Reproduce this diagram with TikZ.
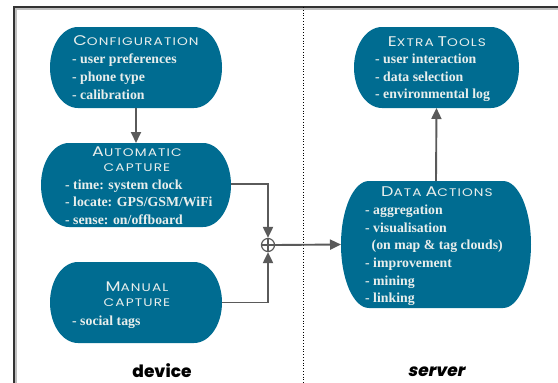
\documentclass[tikz,border=0pt]{standalone}
\usepackage{fontspec}
\usepackage{graphicx}
\setmainfont{Liberation Serif}
\newfontfamily\ttlfont[LetterSpace=8]{Poppins}
\newfontfamily\heavyfont{Poppins ExtraBold}
\usetikzlibrary{arrows.meta,backgrounds,calc}
\definecolor{blobteal}{RGB}{0,108,145}
\definecolor{linegray}{RGB}{90,90,90}
\definecolor{itemtext}{RGB}{232,238,236}
\tikzset{
  blob/.style={inner sep=0pt,outer sep=0pt},
  ttl/.style={text=itemtext,font=\ttlfont\fontsize{11}{12}\selectfont,inner sep=0pt,align=center},
  items/.style={text=itemtext,font=\bfseries\fontsize{13.8}{17.6}\selectfont,inner sep=0pt,align=left,anchor=north west},
  conn/.style={draw=linegray,line width=1.9pt},
  flow/.style={conn,-{Triangle[length=11pt,width=10pt]}},
  side/.style={font=\heavyfont\fontsize{17}{18}\selectfont,inner sep=0pt},
}
\newcommand{\ttlcaps}[2]{\scalebox{1.25}[1]{{\fontsize{14}{14}\selectfont #1}#2}}
\newcommand{\blobfill}[1]{%
  \begin{pgfonlayer}{background}
  \fill[blobteal] let \p1=(#1.north west),\p2=(#1.south east),\n1={0.5*(\y1-\y2)} in
    (\x1+28pt,\y1) -- (\x2-28pt,\y1)
    arc[start angle=90,end angle=-90,x radius=28pt,y radius=\n1]
    -- (\x1+28pt,\y2)
    arc[start angle=270,end angle=90,x radius=28pt,y radius=\n1] -- cycle;
  \end{pgfonlayer}}
\begin{document}
\begin{tikzpicture}[x=1pt,y=-1pt]
\useasboundingbox (0,0) rectangle (558,383);
\clip (0,0) rectangle (558,383);
% frame
\draw[black!25,line width=3pt] (15,383) -- (15,8.5) -- (558,8.5);
\draw[black!80,line width=1.1pt] (14,383) -- (14,7) -- (558,7);
\draw[black,line width=0.8pt,dotted] (303,7) -- (303,383);

\node[blob,minimum width=172pt,minimum height=81pt] (cfg) at (136,67.5) {};
\node[blob,minimum width=190pt,minimum height=84pt] (auto) at (136,185) {};
\node[blob,minimum width=172pt,minimum height=81pt] (man) at (136,302.5) {};
\node[blob,minimum width=165pt,minimum height=81pt] (ext) at (436.5,67.5) {};
\node[blob,minimum width=190pt,minimum height=127pt] (dat) at (436,244.5) {};
\blobfill{cfg}\blobfill{auto}\blobfill{man}\blobfill{ext}\blobfill{dat}

\node[ttl] (cfgT) at (136,41) {\ttlcaps{C}{ONFIGURATION}};
\node[items] (cfgI) at (72,54) {- user preferences\\- phone type\\- calibration};

\node[ttl] (autoT) at (137,159) {\ttlcaps{A}{UTOMATIC}\\[3pt]\ttlcaps{}{CAPTURE}};
\node[items] (autoI) at (65,179.5) {- time: system clock\\- locate: GPS/GSM/WiFi\\- sense: on/offboard};

\node[ttl] (manT) at (137,294) {\ttlcaps{M}{ANUAL}\\[3pt]\ttlcaps{}{CAPTURE}};
\node[items] (manI) at (72,316) {- social tags};

\node[ttl] (extT) at (437,41.5) {\ttlcaps{E}{XTRA} \ttlcaps{T}{OOLS}};
\node[items] (extI) at (375,54) {- user interaction\\- data selection\\- environmental log};

\node[ttl] (datT) at (437,191.5) {\ttlcaps{D}{ATA} \ttlcaps{A}{CTIONS}};
\node[items] (datI) at (365,205)
  {- aggregation\\- visualisation\\\hspace{6.5pt}(on map \& tag clouds)\\- improvement\\- mining\\- linking};

\node[draw=linegray,line width=1.2pt,circle,minimum size=13pt,inner sep=0pt] (sum) at (268,245) {};
\draw[linegray,line width=1.2pt] (sum.north) -- (sum.south) (sum.west) -- (sum.east);

\draw[flow] (cfg.south) -- (auto.north);
\draw[flow] (auto.east |- 0,184) -| (sum.north);
\draw[flow] (man.east) -| (sum.south);
\draw[flow] (sum.east) -- (dat.west);
\draw[flow] (dat.north) -- (ext.south);

\node[side] (dev) at (162,371) {device};
\node[side,xslant=0.2] (srv) at (437,372) {server};
\end{tikzpicture}
\end{document}
